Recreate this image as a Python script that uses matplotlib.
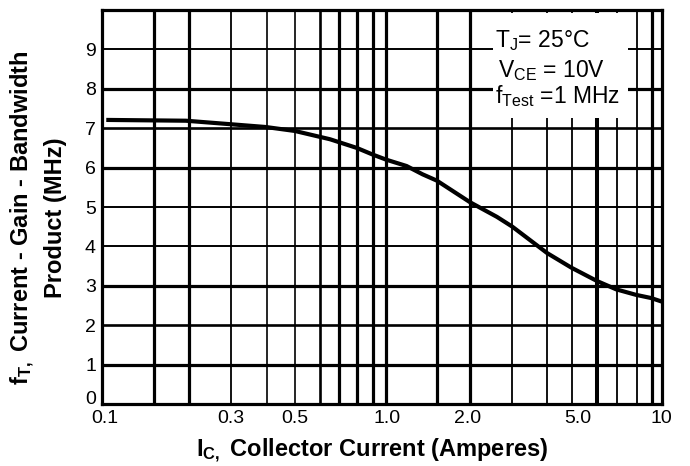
import matplotlib
matplotlib.use('Agg')
import matplotlib.pyplot as plt
import matplotlib.patches as patches

plt.rcParams['font.family'] = ['Liberation Sans', 'DejaVu Sans']
plt.rcParams['mathtext.default'] = 'regular'

# curve
ic = [0.104, 0.2, 0.29, 0.386, 0.49, 0.654, 0.815, 0.93, 1.04, 1.228, 1.40,
      1.574, 2.07, 2.58, 2.93, 3.90, 4.76, 5.88, 6.88, 8.10, 9.16, 10.0]
ft = [7.21, 7.19, 7.1, 7.03, 6.93, 6.72, 6.5, 6.33, 6.2, 6.04, 5.83,
      5.67, 5.12, 4.75, 4.5, 3.83, 3.46, 3.12, 2.91, 2.77, 2.69, 2.6]

# hand drawn grid of the original (positions as drawn)
grid_x = [0.154, 0.206, 0.29, 0.389, 0.491, 0.603, 0.706, 0.815, 0.93, 1.037,
          1.573, 2.068, 2.914, 3.88, 4.77, 5.86, 6.92, 8.14, 9.21]
grid_y = [1, 2, 3, 4, 5, 6, 7, 8, 9]

x_tick_pos = [0.103, 0.29, 0.49, 1.05, 2.03, 5.0, 10.0]
x_tick_lbl = ['0.1', '0.3', '0.5', '1.0', '2.0', '5.0', '10']
y_tick_pos = [0, 1, 2, 3, 4, 5, 6, 7, 8, 9]

# line widths of the grid (pt)
gx_lw = [2.3, 2.3, 1.3, 1.2, 1.2, 1.9, 2.3, 2.3, 2.3, 2.3,
         2.3, 2.3, 1.3, 1.3, 1.3, 2.9, 1.3, 1.3, 2.3]
gy_lw = [2.3, 1.9, 2.3, 1.4, 1.4, 2.3, 1.9, 2.3, 1.4]

fig = plt.figure(figsize=(6.9, 4.66), dpi=100, facecolor='white')
ax = fig.add_axes([101.5 / 690, 62 / 466, 560.2 / 690, 394 / 466])
ax.set_xscale('log')
ax.set_xlim(0.1, 10)
ax.set_ylim(0, 10)

for x, lw in zip(grid_x, gx_lw):
    ax.axvline(x, color='black', lw=lw, zorder=1)
for y, lw in zip(grid_y, gy_lw):
    ax.axhline(y, color='black', lw=lw, zorder=1)

# white box behind the test conditions
box = patches.Rectangle((2.5, 7.26), 7.58 - 2.5, 9.92 - 7.26,
                        facecolor='white', edgecolor='none', zorder=2)
ax.add_patch(box)

ax.plot(ic, ft, color='black', lw=3.0, solid_capstyle='butt', zorder=4)

ax.set_xticks(x_tick_pos)
ax.set_xticklabels(x_tick_lbl)
ax.xaxis.set_minor_locator(matplotlib.ticker.NullLocator())
ax.set_yticks(y_tick_pos)
ax.set_yticklabels([str(v) for v in y_tick_pos])
ax.tick_params(axis='both', length=0, labelsize=14, colors='black')
ax.tick_params(axis='x', pad=4)
ax.tick_params(axis='y', pad=4)
# the "0" sits on the bottom edge in the original
ax.get_yticklabels()[0].set_verticalalignment('baseline')

for sp in ax.spines.values():
    sp.set_linewidth(2.3)
    sp.set_zorder(5)

ax.text(0.702, 0.906, r'$\mathregular{T_J}$= 25°C', transform=ax.transAxes,
        fontsize=16.5, va='baseline', ha='left', zorder=3)
ax.text(0.708, 0.830, r'$\mathregular{V_{CE}}$ = 10V', transform=ax.transAxes,
        fontsize=16.5, va='baseline', ha='left', zorder=3)
ax.text(0.702, 0.764, r'$\mathregular{f_{Test}}$ =1 MHz', transform=ax.transAxes,
        fontsize=16.5, va='baseline', ha='left', zorder=3)

# axis titles
fig.text(372 / 690, 9 / 466, r'$\mathregular{I_{C,}}$ Collector Current (Amperes)',
         fontsize=17, fontweight='bold', ha='center', va='baseline')
fig.text(23 / 690, 1 - 218 / 466, r'$\mathregular{f_{T,}}$ Current - Gain - Bandwidth',
         fontsize=17, fontweight='bold', rotation=90, ha='center', va='center')
fig.text(56 / 690, 1 - 218 / 466, 'Product (MHz)',
         fontsize=17, fontweight='bold', rotation=90, ha='center', va='center')

plt.savefig('out.png', dpi=100)
